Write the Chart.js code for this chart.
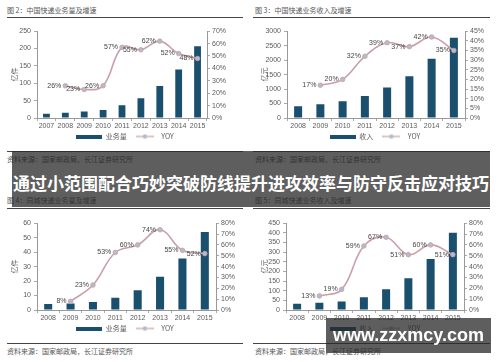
<!DOCTYPE html>
<html><head><meta charset="utf-8">
<script src="https://cdn.jsdelivr.net/npm/chart.js@4/dist/chart.umd.min.js"></script>
<style>
html,body{margin:0;padding:0;background:#fff;}
#wrap{position:relative;width:500px;height:362px;overflow:hidden;background:#fff;font-family:"Noto Sans CJK SC",sans-serif;}
canvas{position:absolute;}
.t{position:absolute;font-size:7px;color:#555;white-space:nowrap;line-height:8px;}
.hl{position:absolute;height:1px;background:#444;}
#banner{position:absolute;left:12px;top:151px;width:478px;height:56px;background:rgba(40,40,40,0.75);}
#bannerText{position:absolute;left:13px;top:173px;font-size:17px;font-weight:bold;color:#fff;white-space:nowrap;line-height:20px;font-family:"Noto Sans CJK SC",sans-serif;}
#wm{position:absolute;left:326px;top:318px;width:165px;height:35px;background:rgba(40,40,40,0.75);}
#wmText{position:absolute;left:326px;top:318px;width:165px;height:35px;line-height:35px;text-align:center;color:#fff;font-weight:bold;font-size:18px;font-family:"Liberation Sans",Arial,sans-serif;}
</style></head>
<body>
<div id="wrap">
  <div class="t" style="left:7px;top:6px;">图 2：中国快递业务量及增速</div>
  <div class="hl" style="left:7px;top:17px;width:236px;"></div>
  <div class="t" style="left:255px;top:6px;">图 3：中国快递业务收入及增速</div>
  <div class="hl" style="left:253px;top:17px;width:237px;"></div>
  <canvas id="c1" width="250" height="126" style="left:0;top:24px;"></canvas>
  <canvas id="c2" width="250" height="126" style="left:250px;top:24px;"></canvas>
  <div class="hl" style="left:7px;top:151px;width:236px;"></div>
  <div class="hl" style="left:253px;top:151px;width:237px;"></div>
  <div class="t" style="left:7px;top:155px;">资料来源：国家邮政局，长江证券研究所</div>
  <div class="t" style="left:255px;top:155px;">资料来源：国家邮政局，长江证券研究所</div>

  <div class="t" style="left:7px;top:196px;">图 4：同城快递业务量及增速</div>
  <div class="hl" style="left:7px;top:208px;width:236px;"></div>
  <div class="t" style="left:255px;top:196px;">图 5：同城快递业务收入及增速</div>
  <div class="hl" style="left:253px;top:208px;width:237px;"></div>
  <canvas id="c3" width="250" height="126" style="left:0;top:216px;"></canvas>
  <canvas id="c4" width="250" height="126" style="left:250px;top:216px;"></canvas>
  <div class="hl" style="left:7px;top:343px;width:236px;"></div>
  <div class="hl" style="left:253px;top:343px;width:237px;"></div>
  <div class="t" style="left:7px;top:347px;">资料来源：国家邮政局，长江证券研究所</div>
  <div class="t" style="left:255px;top:347px;">资料来源：国家邮政局，长江证券研究所</div>

  <div id="banner"></div>
  <div id="bannerText">通过小范围配合巧妙突破防线提升进攻效率与防守反击应对技巧</div>
  <div id="wm"></div>
  <div id="wmText">www.zzxmcy.com</div>
</div>
<script>
// ---- data ----
const yearsNational = ['2007','2008','2009','2010','2011','2012','2013','2014','2015'];
const yearsShort = ['2008','2009','2010','2011','2012','2013','2014','2015'];
const volumeNational = [12, 15.1, 18.6, 23.4, 36.7, 56.9, 91.9, 139.6, 206.7];
const yoyVolumeNational = [null, 26, 23, 26, 57, 55, 62, 52, 48];
const revenueNational = [408, 479, 575, 758, 1055, 1442, 2045, 2770];
const yoyRevenueNational = [null, 17, 20, 32, 39, 37, 42, 35];
const volumeCity = [4.2, 4.5, 5.6, 8.5, 13.6, 23.0, 35.6, 54.0];
const yoyVolumeCity = [null, 8, 23, 53, 60, 74, 55, 52];
const revenueCity = [33, 37, 44, 66, 108, 165, 265, 400];
const yoyRevenueCity = [null, 13, 19, 59, 67, 51, 60, 51];

const BAR = '#1b4f6e';
const LINE = '#c9a0aa';
const PT = '#b4bccb';
const TXT = '#5a5a5a';
const NUMFONT = '"Liberation Sans", Arial, sans-serif';
const CJK = '"Noto Sans CJK SC", sans-serif';

function barIcon(){const c=document.createElement('canvas');c.width=26;c.height=4;const x=c.getContext('2d');x.fillStyle=BAR;x.fillRect(0,0,26,4);return c;}
function lineIcon(){const c=document.createElement('canvas');c.width=18;c.height=6;const x=c.getContext('2d');x.strokeStyle=LINE;x.lineWidth=1.2;x.beginPath();x.moveTo(0,3);x.lineTo(18,3);x.stroke();x.fillStyle=PT;x.beginPath();x.arc(9,3,2.2,0,Math.PI*2);x.fill();return c;}

const yoyLabels = {
  id:'yoyLabels',
  afterDatasetsDraw(chart){
    const ctx = chart.ctx;
    const ds = chart.data.datasets[1];
    const meta = chart.getDatasetMeta(1);
    ctx.save();
    ctx.font = '7px ' + NUMFONT;
    ctx.fillStyle = '#444';
    ctx.textAlign = 'right';
    ctx.textBaseline = 'middle';
    meta.data.forEach((p,i)=>{
      const v = ds.data[i];
      if (v == null) return;
      ctx.fillText(v + '%', p.x - 4, p.y);
    });
    ctx.restore();
  }
};

function make(id, g){
  const ctx = document.getElementById(id);
  new Chart(ctx, {
    type:'bar',
    data:{
      labels:g.labels,
      datasets:[
        {type:'bar', label:g.barName, data:g.bars, backgroundColor:BAR, yAxisID:'y', order:1,
         barPercentage:0.9, categoryPercentage:0.4},
        {type:'line', label:'YOY', data:g.yoy, yAxisID:'y1', order:0, borderColor:LINE, borderWidth:1.6,
         tension:0.4, pointRadius:2.3, pointBackgroundColor:PT, pointBorderColor:LINE, pointBorderWidth:0.8, clip:false}
      ]
    },
    options:{
      responsive:false, animation:false, devicePixelRatio:1,
      layout:{padding:{left:0,right:0,top:g.plotTop,bottom:g.padBottom}},
      plugins:{
        tooltip:{enabled:false},
        legend:{position:'bottom', labels:{
          usePointStyle:true, pointStyleWidth:26, padding:5,
          font:{size:7,family:CJK}, color:TXT,
          generateLabels:()=>[
            {text:g.barName, pointStyle:barIcon(), fillStyle:BAR, strokeStyle:BAR, lineWidth:0, hidden:false, datasetIndex:0, fontColor:TXT},
            {text:'YOY', pointStyle:lineIcon(), fillStyle:PT, strokeStyle:LINE, lineWidth:0, hidden:false, datasetIndex:1, fontColor:TXT}
          ]
        }}
      },
      scales:{
        x:{
          grid:{display:true, drawOnChartArea:false, tickLength:3, color:'#aaa', offset:true},
          border:{display:true, color:'#999'},
          ticks:{font:{size:7,family:NUMFONT}, color:TXT, padding:1, maxRotation:0, autoSkip:false},
          afterFit:s=>{s.height=g.xh;}
        },
        y:{
          position:'left', min:0, max:g.yMax,
          grid:{display:true, drawOnChartArea:false, tickLength:3, color:'#aaa'},
          border:{display:true, color:'#999'},
          ticks:{stepSize:g.yStep, autoSkip:false, font:{size:7,family:NUMFONT}, color:TXT, padding:3, callback:v=>String(v)},
          title:{display:true, text:g.yTitle, font:{size:7,family:CJK}, color:TXT, padding:{top:10,bottom:0}},
          afterFit:s=>{s.width=g.plotLeft;}
        },
        y1:{
          position:'right', min:0, max:g.y1Max,
          grid:{display:true, drawOnChartArea:false, tickLength:3, color:'#aaa'},
          border:{display:true, color:'#999'},
          ticks:{stepSize:g.y1Step, autoSkip:false, font:{size:7,family:NUMFONT}, color:TXT, padding:2, callback:v=>v+'%'},
          afterFit:s=>{s.width=250-g.plotRight;}
        }
      }
    },
    plugins:[yoyLabels]
  });
}

make('c1',{labels:yearsNational, bars:volumeNational, yoy:yoyVolumeNational, barName:'业务量', yTitle:'亿件',
  yMax:250, yStep:50, y1Max:70, y1Step:10, plotLeft:37, plotRight:207, plotTop:7, padBottom:0, xh:10});
make('c2',{labels:yearsShort, bars:revenueNational, yoy:yoyRevenueNational, barName:'收入', yTitle:'亿元',
  yMax:3000, yStep:500, y1Max:45, y1Step:5, plotLeft:37, plotRight:215, plotTop:7, padBottom:0, xh:10});
make('c3',{labels:yearsShort, bars:volumeCity, yoy:yoyVolumeCity, barName:'业务量', yTitle:'亿件',
  yMax:60, yStep:10, y1Max:80, y1Step:10, plotLeft:37, plotRight:216, plotTop:6, padBottom:0, xh:10});
make('c4',{labels:yearsShort, bars:revenueCity, yoy:yoyRevenueCity, barName:'收入', yTitle:'亿元',
  yMax:450, yStep:50, y1Max:80, y1Step:10, plotLeft:36, plotRight:214, plotTop:6, padBottom:0, xh:10});
</script>
</body></html>
